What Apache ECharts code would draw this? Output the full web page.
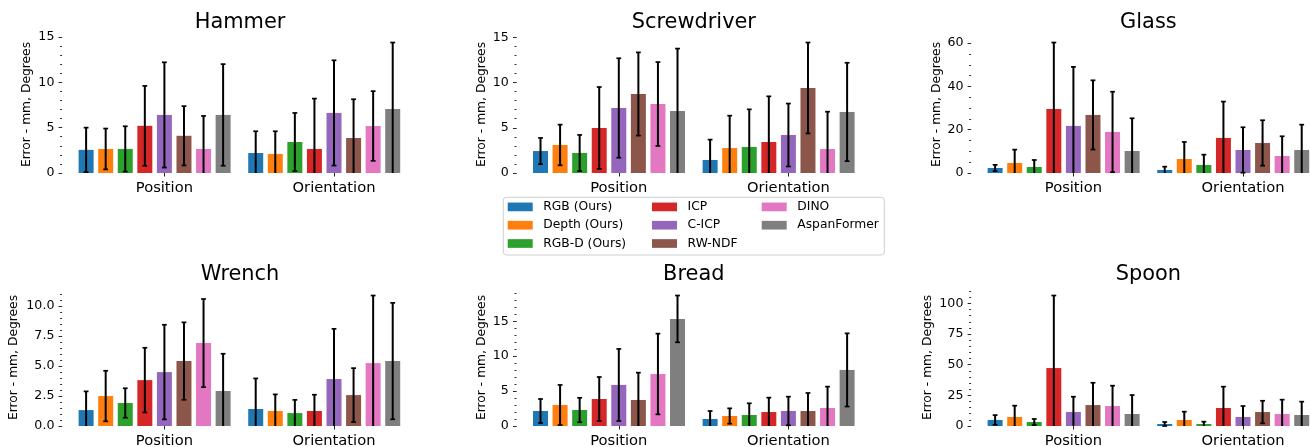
<!DOCTYPE html>
<html><head><meta charset="utf-8">
<script src="https://cdn.jsdelivr.net/npm/echarts@6/dist/echarts.min.js"></script>
<style>html,body{margin:0;padding:0;background:#fff}#c{width:1310px;height:447px}</style>
</head><body><div id="c"></div>
<script>
// ---------------- data ----------------
const panels = ['Hammer', 'Screwdriver', 'Glass', 'Wrench', 'Bread', 'Spoon'];
const categories = ['Position', 'Orientation'];
const methods = ['RGB (Ours)', 'Depth (Ours)', 'RGB-D (Ours)', 'ICP', 'C-ICP', 'RW-NDF', 'DINO', 'AspanFormer'];
const colors = ['#1f77b4', '#ff7f0e', '#2ca02c', '#d62728', '#9467bd', '#8c564b', '#e377c2', '#7f7f7f'];

// rows: [Position values per method], [Orientation values per method]
const hammerMean = [[2.55, 2.65, 2.65, 5.2, 6.4, 4.1, 2.65, 6.4], [2.2, 2.1, 3.42, 2.65, 6.62, 3.86, 5.18, 7.06]];
const hammerErr  = [[2.45, 2.25, 2.5, 4.4, 5.8, 3.27, 3.64, 5.6], [2.4, 2.5, 3.2, 5.55, 5.8, 4.27, 3.84, 7.32]];
const screwdriverMean = [[2.43, 3.1, 2.21, 4.98, 7.19, 8.74, 7.63, 6.86], [1.44, 2.76, 2.88, 3.43, 4.2, 9.4, 2.65, 6.75]];
const screwdriverErr  = [[1.45, 2.25, 2.0, 4.53, 5.5, 4.6, 4.64, 6.9], [2.25, 3.58, 4.16, 5.05, 3.48, 5.03, 4.13, 5.44]];
const glassMean = [[2.31, 4.63, 2.78, 29.6, 21.75, 26.84, 18.97, 10.18], [1.39, 6.48, 3.7, 16.2, 10.64, 13.88, 7.87, 10.64]];
const glassErr  = [[1.45, 6.17, 3.24, 30.7, 27.3, 16.0, 18.6, 15.1], [1.54, 7.87, 4.78, 16.8, 10.5, 10.5, 9.1, 11.7]];
const wrenchMean = [[1.33, 2.5, 1.92, 3.83, 4.5, 5.42, 6.92, 2.92], [1.42, 1.25, 1.08, 1.25, 3.92, 2.58, 5.25, 5.42]];
const wrenchErr  = [[1.56, 2.11, 1.23, 2.7, 3.95, 3.23, 3.68, 3.11], [2.55, 1.39, 1.1, 1.36, 4.19, 2.25, 5.64, 4.86]];
const breadMean = [[2.15, 3.01, 2.29, 3.87, 5.88, 3.73, 7.45, 15.34], [1.0, 1.43, 1.58, 2.0, 2.15, 2.15, 2.58, 8.03]];
const breadErr  = [[1.72, 2.87, 1.75, 3.15, 5.16, 3.91, 5.78, 3.35], [1.15, 1.1, 1.67, 2.06, 2.05, 2.58, 3.06, 5.24]];
const spoonMean = [[4.9, 7.34, 3.26, 47.3, 11.4, 17.1, 16.3, 9.78], [1.63, 4.9, 1.63, 14.7, 7.34, 11.4, 9.78, 8.97]];
const spoonErr  = [[4.0, 9.24, 2.5, 59.2, 12.5, 18.2, 16.6, 15.5], [1.63, 6.8, 1.9, 17.4, 8.96, 9.2, 11.7, 10.9]];

const hammerTicks = [0, 5, 10, 15];
const screwdriverTicks = [0, 5, 10, 15];
const glassTicks = [0, 20, 40, 60];
const wrenchTicks = [0, 2.5, 5, 7.5, 10];
const breadTicks = [0, 5, 10, 15];
const spoonTicks = [0, 25, 50, 75, 100];
const minorSteps = [1, 1, 5, 0.5, 1, 5];
const tickDecimals = [0, 0, 0, 1, 0, 0];
const yLabel = 'Error - mm, Degrees';

const means = [hammerMean, screwdriverMean, glassMean, wrenchMean, breadMean, spoonMean];
const errs = [hammerErr, screwdriverErr, glassErr, wrenchErr, breadErr, spoonErr];
const majorTicks = [hammerTicks, screwdriverTicks, glassTicks, wrenchTicks, breadTicks, spoonTicks];

// ---------------- layout ----------------
const FONT = 'DejaVu Sans';
const colLeft = [79.6, 534.0, 988.6];
const gridW = 339.2;
const rowTop = [36, 289];
const gridH = 137;
const titleX = [240, 693.8, 1148.4];
const titleTop = [11.8, 263.8];
const nameGaps = [28.8, 28.9, 28.5, 41.8, 28.9, 36.8];
const PITCH = 0.1154, BARW = 0.0884;

const grids = [], xAxes = [], yAxes = [], series = [], titles = [];
panels.forEach((name, p) => {
  const col = p % 3, row = Math.floor(p / 3);
  const mean = means[p], err = errs[p];
  let top = 0;
  mean.forEach((r, c) => r.forEach((v, m) => { top = Math.max(top, v + err[c][m]); }));
  const yMax = top * 1.05;
  const step = minorSteps[p];
  const minor = [];
  for (let k = 0; k * step <= yMax + 1e-9; k++) minor.push(Math.round(k * step * 1000) / 1000);

  grids.push({left: colLeft[col], top: rowTop[row], width: gridW, height: gridH, outerBoundsMode: 'none', containLabel: false});
  titles.push({text: name, left: titleX[col], top: titleTop[row], textAlign: 'center', padding: 0,
    textStyle: {fontFamily: FONT, fontSize: 20.9, fontWeight: 'normal', color: '#000'}});
  xAxes.push({type: 'category', gridIndex: p, data: categories, boundaryGap: true,
    axisLine: {show: false}, splitLine: {show: false},
    axisTick: {show: true, alignWithLabel: true, interval: 0, length: 3.5, lineStyle: {color: '#222', width: 1}},
    axisLabel: {interval: 0, margin: 8, fontFamily: FONT, fontSize: 14.7, color: '#000'}});
  const dec = tickDecimals[p];
  yAxes.push({type: 'value', gridIndex: p, min: 0, max: yMax, position: 'left', offset: 17.5,
    name: yLabel, nameLocation: 'middle', nameGap: nameGaps[p], nameRotate: 90, nameMoveOverlap: false,
    nameTextStyle: {fontFamily: FONT, fontSize: 12.3, color: '#000'},
    axisLine: {show: false}, splitLine: {show: false},
    axisTick: {show: true, length: 3.5, customValues: majorTicks[p], lineStyle: {color: '#222', width: 1}},
    axisLabel: {customValues: majorTicks[p], margin: 7.7, fontFamily: FONT, fontSize: 12.6, color: '#000',
      formatter: v => Number(v).toFixed(dec)}});
  yAxes.push({type: 'value', gridIndex: p, min: 0, max: yMax, position: 'left', offset: 17.5,
    axisLine: {show: false}, splitLine: {show: false}, axisLabel: {show: false},
    axisTick: {show: true, length: 2, customValues: minor, lineStyle: {color: '#333', width: 1}}});

  methods.forEach((mName, m) => {
    const color = colors[m];
    series.push({
      type: 'custom', name: mName, xAxisIndex: p, yAxisIndex: p * 2,
      itemStyle: {color: color},
      encode: {x: 0, y: 1},
      data: categories.map((c, ci) => [ci, mean[ci][m], err[ci][m]]),
      renderItem: function (params, api) {
        const cat = api.value(0), v = api.value(1), e = api.value(2);
        const band = api.size([1, 0])[0];
        const base = api.coord([cat, 0]);
        const topPt = api.coord([cat, v]);
        const cx = base[0] + (m - 4) * band * PITCH;
        const bw = band * BARW;
        const hiY = api.coord([cat, v + e])[1];
        const lowV = v - e;
        const loY = lowV < 0 ? base[1] : api.coord([cat, lowV])[1];
        const capW = 2.4;
        const children = [
          {type: 'rect', shape: {x: cx - bw / 2, y: topPt[1], width: bw, height: base[1] - topPt[1]}, style: {fill: color}},
          {type: 'line', shape: {x1: cx, y1: loY, x2: cx, y2: hiY}, style: {stroke: '#000', lineWidth: 2}},
          {type: 'line', shape: {x1: cx - capW, y1: hiY, x2: cx + capW, y2: hiY}, style: {stroke: '#000', lineWidth: 1.7}}
        ];
        if (lowV >= 0) children.push({type: 'line', shape: {x1: cx - capW, y1: loY, x2: cx + capW, y2: loY}, style: {stroke: '#000', lineWidth: 1.7}});
        return {type: 'group', children: children};
      }
    });
  });
});

const legendBase = {orient: 'vertical', top: 199.9, padding: 0, itemWidth: 25, itemHeight: 8.7, itemGap: 4.3,
  icon: 'rect', selectedMode: false, itemStyle: {borderWidth: 0},
  textStyle: {fontFamily: FONT, fontSize: 12.3, color: '#000', lineHeight: 14, padding: [0, 0, 0, 5.6]}};
const legends = [
  Object.assign({}, legendBase, {left: 507.7, data: methods.slice(0, 3)}),
  Object.assign({}, legendBase, {left: 652, data: methods.slice(3, 6)}),
  Object.assign({}, legendBase, {left: 761.7, data: methods.slice(6)})
];

const chart = echarts.init(document.getElementById('c'), null, {renderer: 'canvas'});
chart.setOption({
  animation: false,
  backgroundColor: '#fff',
  title: titles,
  grid: grids,
  xAxis: xAxes,
  yAxis: yAxes,
  legend: legends,
  graphic: [{type: 'rect', shape: {x: 503.3, y: 197.3, width: 381, height: 57.7, r: 3},
    style: {fill: 'rgba(255,255,255,0.8)', stroke: '#cfcfcf', lineWidth: 1}, z: 0}],
  series: series
});
</script></body></html>
